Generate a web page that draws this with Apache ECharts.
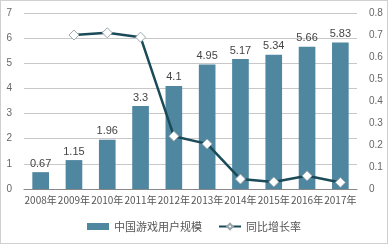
<!DOCTYPE html>
<html><head><meta charset="utf-8">
<script src="https://cdn.jsdelivr.net/npm/echarts@6/dist/echarts.min.js"></script>
<style>html,body{margin:0;padding:0;background:#fff}#c{width:388px;height:244px;box-sizing:border-box;border:1px solid #d0d0d0}</style>
</head><body><div id="c"></div>
<script>
var categories = ['2008年','2009年','2010年','2011年','2012年','2013年','2014年','2015年','2016年','2017年'];
var userScale = [0.67,1.15,1.96,3.3,4.1,4.95,5.17,5.34,5.66,5.83];
var growthRate = [null,0.70,0.71,0.69,0.24,0.205,0.045,0.032,0.06,0.03];
var leftTicks = [0,1,2,3,4,5,6,7];
var rightTicks = [0,0.1,0.2,0.3,0.4,0.5,0.6,0.7,0.8];
var chart = echarts.init(document.getElementById('c'));
var font = 'Liberation Sans, Arial, sans-serif';
chart.setOption({
  animation:false,
  textStyle:{fontFamily:font},
  grid:{left:23,right:30,top:12,bottom:54},
  legend:{bottom:6,left:'center',itemGap:16,itemWidth:22,itemHeight:7,
    textStyle:{fontSize:11,color:'#555',fontFamily:'Noto Sans CJK SC'},
    data:[{name:'中国游戏用户规模',icon:'rect'},{name:'同比增长率'}]},
  xAxis:{type:'category',data:categories,
    axisLine:{lineStyle:{color:'#888'}},axisTick:{show:false},
    axisLabel:{fontSize:10,color:'#555',interval:0,margin:6,fontFamily:'Noto Sans CJK SC'}},
  yAxis:[
    {type:'value',min:leftTicks[0],max:leftTicks[leftTicks.length-1],interval:1,
      axisLine:{show:false},axisTick:{show:false},
      axisLabel:{fontSize:10,color:'#666',margin:12},
      splitLine:{lineStyle:{color:'#c8c8c8'}}},
    {type:'value',min:rightTicks[0],max:rightTicks[rightTicks.length-1],interval:0.1,
      axisLine:{show:false},axisTick:{show:false},
      axisLabel:{fontSize:10,color:'#666',margin:12,formatter:function(v){return String(+v.toFixed(1));}},
      splitLine:{show:false}}
  ],
  series:[
    {name:'中国游戏用户规模',type:'bar',data:userScale,barWidth:'50%',
      itemStyle:{color:'#4f86a0'},
      label:{show:true,position:'top',fontSize:11,color:'#444',distance:3}},
    {name:'同比增长率',type:'line',yAxisIndex:1,data:growthRate,
      symbol:'diamond',symbolSize:10,
      lineStyle:{color:'#1b4a58',width:2.5},
      itemStyle:{color:'#ffffff',borderColor:'#9aa8ae',borderWidth:1}}
  ]
});
</script></body></html>
